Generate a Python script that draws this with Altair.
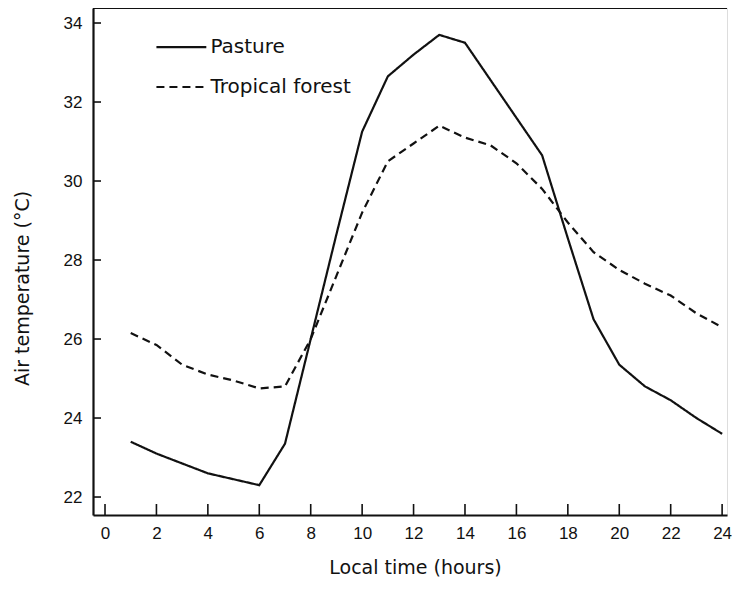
import altair as alt
import pandas as pd

# ---- data ----
hours = list(range(1, 25))
pasture = [23.4, 23.1, 22.85, 22.6, 22.45, 22.3, 23.35, 26.0, 28.65, 31.25, 32.65, 33.2,
           33.7, 33.5, 32.55, 31.6, 30.65, 28.55, 26.5, 25.35, 24.8, 24.45, 24.0, 23.6]
forest = [26.15, 25.85, 25.35, 25.1, 24.95, 24.75, 24.8, 26.0, 27.6, 29.2, 30.5, 30.95,
          31.4, 31.1, 30.9, 30.45, 29.8, 28.95, 28.2, 27.75, 27.4, 27.1, 26.65, 26.3]
series_names = ["Pasture", "Tropical forest"]

x_ticks = list(range(0, 25, 2))
y_ticks = list(range(22, 35, 2))

# legend placement (in data units)
legend_x0, legend_x1, legend_tx = 2.0, 3.94, 4.1
legend_y = [33.39, 32.38]

W, H = 634, 507
XDOM = [-0.467, 24.19]
YDOM = [21.545, 34.38]
INK = "#111111"
TICKFONT = "Liberation Sans"
TITLEFONT = "DejaVu Sans"

df = pd.DataFrame({
    "hour": hours * 2,
    "temp": pasture + forest,
    "series": [series_names[0]] * len(hours) + [series_names[1]] * len(hours),
})

xs = alt.Scale(domain=XDOM, nice=False, zero=False)
ys = alt.Scale(domain=YDOM, nice=False, zero=False)
dash_scale = alt.Scale(domain=series_names, range=[[1, 0], [8, 5]])

lines = alt.Chart(df).mark_line(color=INK, strokeWidth=2.2).encode(
    x=alt.X("hour:Q", scale=xs,
            axis=alt.Axis(values=x_ticks, title="Local time (hours)", ticks=False, grid=False,
                          domainColor=INK, domainWidth=2.2, labelFont=TICKFONT, labelFontSize=17,
                          labelColor=INK, labelPadding=10, titleFont=TITLEFONT, titleFontSize=19,
                          titleFontWeight="normal", titleColor=INK, titleX=322, titleY=52,
                          titleBaseline="middle", titleAlign="center")),
    y=alt.Y("temp:Q", scale=ys,
            axis=alt.Axis(values=y_ticks, title="Air temperature (°C)", ticks=False, grid=False,
                          domainColor=INK, domainWidth=2.2, labelFont=TICKFONT, labelFontSize=17,
                          labelColor=INK, labelPadding=11, titleFont=TITLEFONT, titleFontSize=19,
                          titleFontWeight="normal", titleColor=INK, titleX=-71, titleY=280,
                          titleAngle=270, titleBaseline="middle", titleAlign="center")),
    strokeDash=alt.StrokeDash("series:N", scale=dash_scale, legend=None),
    detail="series:N",
)

# inward ticks
ytick_df = pd.DataFrame({"v": y_ticks})
ytk = alt.Chart(ytick_df).mark_rule(color=INK, strokeWidth=1.6).encode(
    y=alt.Y("v:Q", scale=ys), x=alt.value(0), x2=alt.value(8))
xtick_df = pd.DataFrame({"v": x_ticks})
xtk = alt.Chart(xtick_df).mark_rule(color=INK, strokeWidth=1.6).encode(
    x=alt.X("v:Q", scale=xs), y=alt.value(H), y2=alt.value(H - 11))

# top frame line
top = alt.Chart(pd.DataFrame({"a": [0]})).mark_rule(color=INK, strokeWidth=2.2).encode(
    x=alt.value(0), x2=alt.value(W), y=alt.value(0))

# legend
leg_df = pd.DataFrame({"series": series_names, "y": legend_y,
                       "x0": [legend_x0] * 2, "x1": [legend_x1] * 2, "tx": [legend_tx] * 2})
leg_lines = alt.Chart(leg_df).mark_rule(color=INK, strokeWidth=2.2).encode(
    x=alt.X("x0:Q", scale=xs), x2="x1:Q", y=alt.Y("y:Q", scale=ys),
    strokeDash=alt.StrokeDash("series:N", scale=dash_scale, legend=None))
leg_text = alt.Chart(leg_df).mark_text(align="left", baseline="middle", font=TITLEFONT,
                                       fontSize=20, color=INK).encode(
    x=alt.X("tx:Q", scale=xs), y=alt.Y("y:Q", scale=ys), text="series:N")

chart = alt.layer(lines, ytk, xtk, top, leg_lines, leg_text).properties(
    width=W, height=H,
    autosize=alt.AutoSizeParams(type="none"),
    padding={"left": 85, "top": 0, "right": 5, "bottom": 66},
).configure_view(stroke=None).configure(background="white")

chart.save("out.html", embed_options={"renderer": "svg", "actions": False})
